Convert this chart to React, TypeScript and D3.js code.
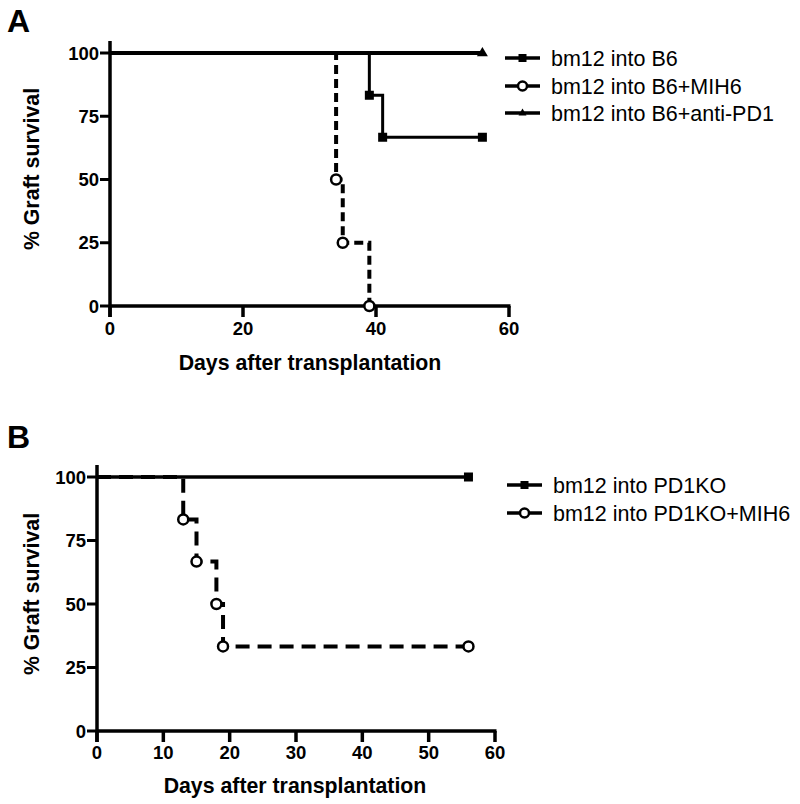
import React from "react";
import * as d3 from "d3";

// ---------- data ----------
const yTicks = [0, 25, 50, 75, 100];
const xTicksA = [0, 20, 40, 60];
const xTicksB = [0, 10, 20, 30, 40, 50, 60];

const daysA_B6 = [0, 39, 41, 56];
const survA_B6 = [100, 83.3, 66.7, 66.7];
const daysA_MIH6 = [0, 34, 35, 39];
const survA_MIH6 = [100, 50, 25, 0];
const daysA_PD1 = [0, 56];
const survA_PD1 = [100, 100];

const daysB_KO = [0, 56];
const survB_KO = [100, 100];
const daysB_KOMIH6 = [0, 13, 15, 18, 19, 56];
const survB_KOMIH6 = [100, 83.3, 66.7, 50, 33.3, 33.3];

const legendA = ["bm12 into B6", "bm12 into B6+MIH6", "bm12 into B6+anti-PD1"];
const legendB = ["bm12 into PD1KO", "bm12 into PD1KO+MIH6"];

const xTitle = "Days after transplantation";
const yTitle = "% Graft survival";

type Marker = "square" | "circle" | "triangle";
interface Series {
  days: number[];
  surv: number[];
  marker: Marker;
  dashed: boolean;
  width: number;
}

const FONT = "Arial, 'Liberation Sans', sans-serif";

function MarkerShape({ type, x, y, size }: { type: Marker; x: number; y: number; size: number }) {
  if (type === "square") {
    return <rect x={x - size / 2} y={y - size / 2} width={size} height={size} fill="#000" />;
  }
  if (type === "circle") {
    return <circle cx={x} cy={y} r={size / 2} fill="#fff" stroke="#000" strokeWidth={2.5} />;
  }
  const h = size * 0.85;
  return (
    <path
      d={`M${x},${y - h * 0.65} L${x + size / 2},${y + h * 0.35} L${x - size / 2},${y + h * 0.35} Z`}
      fill="#000"
    />
  );
}

interface PanelProps {
  label: string;
  labelY: number;
  x0: number;
  x1: number;
  yTop: number;
  yBot: number;
  xTicks: number[];
  series: Series[];
  legend: string[];
  legendRows: number[];
  yTitleCenter: number;
  xTitleCenter: number;
  xTitleBaseline: number;
  xLabelBaseline: number;
  legendX0: number;
}

function Panel(p: PanelProps) {
  const x = d3.scaleLinear().domain([0, 60]).range([p.x0, p.x1]);
  const y = d3.scaleLinear().domain([0, 100]).range([p.yBot, p.yTop]);
  const line = d3
    .line<[number, number]>()
    .x((d) => x(d[0]))
    .y((d) => y(d[1]))
    .curve(d3.curveStepAfter);

  const order = [...p.series].sort((a, b) => (a.dashed === b.dashed ? 0 : a.dashed ? -1 : 1));

  return (
    <g>
      <text x={7} y={p.labelY} fontFamily={FONT} fontWeight="bold" fontSize={32}>
        {p.label}
      </text>
      {/* axes */}
      <line x1={p.x0} x2={p.x0} y1={p.yTop - 12} y2={p.yBot + 11} stroke="#000" strokeWidth={3.5} />
      <line x1={p.x0} x2={p.x1 + 1.5} y1={p.yBot} y2={p.yBot} stroke="#000" strokeWidth={3.5} />
      {yTicks.map((t) => (
        <g key={"y" + t}>
          <line x1={p.x0 - 10} x2={p.x0} y1={y(t)} y2={y(t)} stroke="#000" strokeWidth={3} />
          <text
            x={p.x0 - 11}
            y={y(t)}
            dy="0.36em"
            textAnchor="end"
            fontFamily={FONT}
            fontWeight="bold"
            fontSize={18.5}
          >
            {t}
          </text>
        </g>
      ))}
      {p.xTicks.map((t) => (
        <g key={"x" + t}>
          <line x1={x(t)} x2={x(t)} y1={p.yBot} y2={p.yBot + 11} stroke="#000" strokeWidth={3.5} />
          <text
            x={x(t)}
            y={p.xLabelBaseline}
            textAnchor="middle"
            fontFamily={FONT}
            fontWeight="bold"
            fontSize={18.5}
          >
            {t}
          </text>
        </g>
      ))}
      <text
        x={p.xTitleCenter}
        y={p.xTitleBaseline}
        textAnchor="middle"
        fontFamily={FONT}
        fontWeight="bold"
        fontSize={21.3}
      >
        {xTitle}
      </text>
      <text
        transform={`translate(39,${p.yTitleCenter}) rotate(-90)`}
        textAnchor="middle"
        fontFamily={FONT}
        fontWeight="bold"
        fontSize={21.3}
      >
        {yTitle}
      </text>
      {/* series */}
      {order.map((s, i) => {
        const pts = s.days.map((d, j) => [d, s.surv[j]] as [number, number]);
        return (
          <path
            key={"s" + i}
            d={line(pts) || ""}
            fill="none"
            stroke="#000"
            strokeWidth={s.width}
            strokeDasharray={s.dashed ? (p.label === "A" ? "9,5" : "14,8") : undefined}
          />
        );
      })}
      {order.map((s, i) =>
        s.days.slice(1).map((d, j) => (
          <MarkerShape
            key={`m${i}-${j}`}
            type={s.marker}
            x={x(d)}
            y={y(s.surv[j + 1])}
            size={s.marker === "circle" ? 10 : s.marker === "triangle" ? 11 : 9}
          />
        ))
      )}
      {/* legend */}
      {p.legend.map((name, i) => {
        const s = p.series[i];
        const ly = p.legendRows[i];
        const lx0 = p.legendX0;
        const lx1 = lx0 + 35;
        return (
          <g key={"l" + i}>
            <line x1={lx0} x2={lx1} y1={ly} y2={ly} stroke="#000" strokeWidth={3.5} />
            <MarkerShape type={s.marker} x={(lx0 + lx1) / 2} y={ly} size={s.marker === "circle" ? 9 : 8} />
            <text x={lx1 + 11} y={ly} dy="0.36em" fontFamily={FONT} fontSize={21.5}>
              {name}
            </text>
          </g>
        );
      })}
    </g>
  );
}

export default function App() {
  const seriesA: Series[] = [
    { days: daysA_B6, surv: survA_B6, marker: "square", dashed: false, width: 3 },
    { days: daysA_MIH6, surv: survA_MIH6, marker: "circle", dashed: true, width: 4 },
    { days: daysA_PD1, surv: survA_PD1, marker: "triangle", dashed: false, width: 4 },
  ];
  const seriesB: Series[] = [
    { days: daysB_KO, surv: survB_KO, marker: "square", dashed: false, width: 3.5 },
    { days: daysB_KOMIH6, surv: survB_KOMIH6, marker: "circle", dashed: true, width: 4 },
  ];
  return (
    <svg
      width={800}
      height={804}
      style={{ position: "absolute", left: 0, top: 0, background: "#fff" }}
    >
      <rect width={800} height={804} fill="#fff" />
      <Panel
        label="A"
        labelY={32}
        x0={110}
        x1={509}
        yTop={53}
        yBot={306}
        xTicks={xTicksA}
        series={seriesA}
        legend={legendA}
        legendRows={[58, 86, 113]}
        yTitleCenter={169}
        xTitleCenter={310}
        xTitleBaseline={370}
        xLabelBaseline={335}
        legendX0={505}
      />
      <Panel
        label="B"
        labelY={448}
        x0={97}
        x1={495}
        yTop={477}
        yBot={731}
        xTicks={xTicksB}
        series={seriesB}
        legend={legendB}
        legendRows={[485, 513]}
        yTitleCenter={594}
        xTitleCenter={295}
        xTitleBaseline={793}
        xLabelBaseline={759}
        legendX0={507}
      />
    </svg>
  );
}
